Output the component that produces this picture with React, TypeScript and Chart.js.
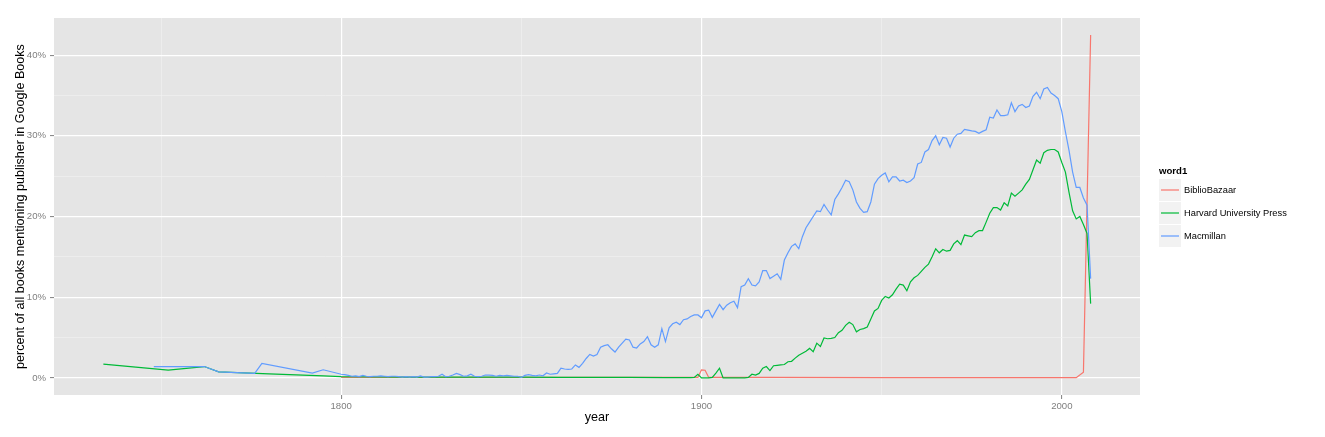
import React, { useEffect, useRef } from 'react';
import { Chart, registerables } from 'chart.js';

Chart.register(...registerables);

const range = (a: number, b: number): number[] => Array.from({ length: b - a + 1 }, (_, i) => a + i);

// ---- categories / labels ----
const seriesNames = ['BiblioBazaar', 'Harvard University Press', 'Macmillan'];
const seriesColors = ['#F8766D', '#00BA38', '#619CFF'];
const legendTitle = 'word1';
const xTitle = 'year';
const yTitle = 'percent of all books mentioning publisher in Google Books';

const xTicks = [1750, 1800, 1850, 1900, 1950, 2000];
const xLabelTicks = [1800, 1900, 2000];
const yTicks = [0, 5, 10, 15, 20, 25, 30, 35, 40];
const yLabelTicks = [0, 10, 20, 30, 40];

// ---- BiblioBazaar ----
const biblioYears = [1800, 1830, 1860, 1890, 1899, 1900, 1901, 1902, 1920, 1950, 1980, 2004, 2006, 2008];
const biblioValues = [0.05, 0.05, 0.05, 0.05, 0.05, 1.0, 0.95, 0.05, 0.05, 0.03, 0.02, 0.02, 0.7, 42.5];

// ---- Harvard University Press ----
const harvardEarlyYears = [1734, 1752, 1762, 1766, 1780, 1795, 1800, 1810, 1820, 1830, 1840, 1850, 1860, 1870, 1880, 1890, 1897];
const harvardEarlyValues = [1.7, 0.95, 1.4, 0.75, 0.5, 0.25, 0.15, 0.12, 0.1, 0.1, 0.08, 0.08, 0.06, 0.05, 0.05, 0.04, 0.04];
const harvardAnnualYears = range(1898, 2008);
const harvardAnnualValues = [
  0.05, 0.45, // 1898-1899
  0.0, 0.0, 0.0, 0.05, 0.6, 1.2, 0.0, 0.0, 0.0, 0.0, // 1900s
  0.0, 0.0, 0.0, 0.05, 0.45, 0.35, 0.55, 1.2, 1.4, 0.9, // 1910s
  1.5, 1.55, 1.6, 1.65, 2.0, 2.05, 2.45, 2.8, 3.05, 3.3, // 1920s
  3.65, 3.25, 4.3, 3.9, 4.95, 4.85, 4.9, 5.0, 5.6, 5.9, // 1930s
  6.5, 6.9, 6.6, 5.7, 6.0, 6.1, 6.3, 7.3, 8.3, 8.6, // 1940s
  9.6, 10.1, 9.9, 10.3, 11.0, 11.6, 11.5, 10.8, 11.9, 12.4, // 1950s
  12.7, 13.2, 13.7, 14.1, 15.0, 16.0, 15.5, 15.9, 15.7, 15.8, // 1960s
  16.6, 17.0, 16.5, 17.7, 17.6, 17.5, 18.0, 18.25, 18.25, 19.3, // 1970s
  20.4, 21.1, 21.1, 20.8, 21.7, 21.3, 22.9, 22.5, 22.9, 23.3, // 1980s
  24.0, 24.6, 25.8, 27.0, 26.6, 27.9, 28.2, 28.3, 28.3, 28.0, // 1990s
  26.7, 25.5, 23.0, 20.7, 19.7, 20.0, 19.0, 17.9, 9.2, // 2000-2008
];

// ---- Macmillan ----
const macmillanEarlyYears = [1748, 1762, 1766, 1776, 1778, 1792, 1795];
const macmillanEarlyValues = [1.4, 1.4, 0.75, 0.55, 1.8, 0.6, 1.0];
const macmillanAnnualYears = range(1800, 2008);
const macmillanAnnualValues = [
  0.45, 0.4, 0.3, 0.2, 0.25, 0.15, 0.3, 0.2, 0.15, 0.2, // 1800s
  0.2, 0.25, 0.2, 0.15, 0.2, 0.2, 0.15, 0.1, 0.15, 0.1, // 1810s
  0.15, 0.1, 0.25, 0.1, 0.1, 0.15, 0.15, 0.2, 0.45, 0.15, // 1820s
  0.2, 0.35, 0.55, 0.4, 0.2, 0.25, 0.45, 0.2, 0.15, 0.2, // 1830s
  0.35, 0.35, 0.3, 0.2, 0.3, 0.25, 0.3, 0.25, 0.2, 0.2, // 1840s
  0.05, 0.3, 0.4, 0.3, 0.25, 0.35, 0.25, 0.6, 0.45, 0.5, // 1850s
  0.55, 1.2, 1.1, 1.05, 1.1, 1.6, 1.3, 1.8, 2.4, 2.9, // 1860s
  2.7, 2.9, 3.8, 4.0, 4.1, 3.6, 3.2, 3.8, 4.3, 4.8, // 1870s
  4.7, 3.8, 3.7, 4.2, 4.5, 5.1, 4.1, 3.8, 4.1, 6.1, // 1880s
  4.5, 6.2, 6.7, 6.9, 6.6, 7.2, 7.3, 7.6, 7.8, 7.8, // 1890s
  7.45, 8.3, 8.4, 7.5, 8.3, 9.1, 8.45, 9.0, 9.3, 9.5, // 1900s
  8.7, 11.3, 11.5, 12.3, 11.5, 11.4, 11.9, 13.3, 13.3, 12.3, // 1910s
  12.6, 12.9, 12.2, 14.6, 15.5, 16.3, 16.6, 16.0, 17.5, 18.6, // 1920s
  19.3, 20.0, 20.7, 20.6, 21.5, 20.8, 20.2, 22.1, 22.8, 23.6, // 1930s
  24.5, 24.3, 23.3, 21.8, 21.0, 20.5, 20.6, 21.8, 24.0, 24.7, // 1940s
  25.1, 25.4, 24.3, 24.9, 24.9, 24.4, 24.5, 24.2, 24.4, 24.8, // 1950s
  26.5, 26.7, 28.0, 28.3, 29.4, 30.0, 28.9, 29.8, 29.7, 28.6, // 1960s
  29.7, 30.2, 30.3, 30.8, 30.7, 30.6, 30.55, 30.3, 30.55, 30.75, // 1970s
  32.3, 32.2, 33.2, 32.5, 32.5, 32.6, 34.1, 33.0, 33.7, 33.9, // 1980s
  33.5, 33.7, 34.9, 35.4, 34.6, 35.8, 36.0, 35.3, 35.0, 34.6, // 1990s
  33.0, 30.5, 28.2, 25.5, 23.6, 23.6, 22.3, 21.4, 12.3, // 2000-2008
];

const seriesYears = [
  biblioYears,
  [...harvardEarlyYears, ...harvardAnnualYears],
  [...macmillanEarlyYears, ...macmillanAnnualYears],
];
const seriesValues = [
  biblioValues,
  [...harvardEarlyValues, ...harvardAnnualValues],
  [...macmillanEarlyValues, ...macmillanAnnualValues],
];

const FONT = "'Liberation Sans', Arial, Helvetica, sans-serif";
const W = 1325;
const H = 437;

const panelBg = {
  id: 'panelBg',
  beforeDraw(chart: any) {
    const { ctx, chartArea } = chart;
    ctx.save();
    ctx.fillStyle = '#E5E5E5';
    ctx.fillRect(chartArea.left, chartArea.top, chartArea.right - chartArea.left, chartArea.bottom - chartArea.top);
    ctx.restore();
  },
};

const ggLegend = {
  id: 'ggLegend',
  afterDraw(chart: any) {
    const { ctx } = chart;
    const x0 = 1159;
    const y0 = 179;
    const key = 22;
    const step = 23;
    ctx.save();
    ctx.fillStyle = '#000000';
    ctx.font = `bold 9.6px ${FONT}`;
    ctx.textBaseline = 'alphabetic';
    ctx.textAlign = 'left';
    ctx.fillText(legendTitle, x0, 174);
    chart.data.datasets.forEach((ds: any, i: number) => {
      const top = y0 + i * step;
      ctx.fillStyle = '#F2F2F2';
      ctx.fillRect(x0, top, key, key);
      ctx.strokeStyle = ds.borderColor;
      ctx.lineWidth = 1.2;
      ctx.beginPath();
      ctx.moveTo(x0 + 2, top + key / 2);
      ctx.lineTo(x0 + key - 2, top + key / 2);
      ctx.stroke();
      ctx.fillStyle = '#000000';
      ctx.font = `9.3px ${FONT}`;
      ctx.textBaseline = 'middle';
      ctx.fillText(ds.label, x0 + key + 3, top + key / 2);
    });
    ctx.restore();
  },
};

export default function App() {
  const ref = useRef<HTMLCanvasElement | null>(null);

  useEffect(() => {
    document.body.style.margin = '0';
    const canvas = ref.current;
    if (!canvas) return;
    const orders = [3, 2, 1];
    const chart = new Chart(canvas, {
      type: 'line',
      data: {
        datasets: seriesNames.map((name, i) => ({
          label: name,
          data: seriesYears[i].map((x, j) => ({ x, y: seriesValues[i][j] })),
          borderColor: seriesColors[i],
          backgroundColor: seriesColors[i],
          borderWidth: 1.2,
          pointRadius: 0,
          tension: 0,
          fill: false,
          order: orders[i],
        })),
      },
      options: {
        responsive: false,
        animation: false,
        events: [],
        layout: { padding: { top: 18, right: W - 1140, left: 0, bottom: 0 } },
        plugins: {
          legend: { display: false },
          tooltip: { enabled: false },
        },
        scales: {
          x: {
            type: 'linear',
            min: 1720.3,
            max: 2021.7,
            afterBuildTicks: (scale: any) => {
              scale.ticks = xTicks.map((v) => ({ value: v }));
            },
            afterFit: (scale: any) => {
              scale.height = 42;
            },
            border: { display: false },
            grid: {
              color: (c: any) => (xLabelTicks.includes(c.tick?.value) ? '#FFFFFF' : '#F2F2F2'),
              lineWidth: (c: any) => (xLabelTicks.includes(c.tick?.value) ? 1.2 : 0.6),
              tickColor: (c: any) => (xLabelTicks.includes(c.tick?.value) ? '#7F7F7F' : 'rgba(0,0,0,0)'),
              tickLength: 4,
              tickWidth: 1,
              drawTicks: true,
            },
            ticks: {
              autoSkip: false,
              maxRotation: 0,
              padding: 2,
              color: '#7F7F7F',
              font: { family: FONT, size: 9.6 },
              callback: (v: any) => (xLabelTicks.includes(Number(v)) ? String(v) : ''),
            },
            title: {
              display: true,
              text: xTitle,
              color: '#000000',
              font: { family: FONT, size: 12.6 },
              padding: { top: 0, bottom: 12 },
            },
          },
          y: {
            type: 'linear',
            min: -2.125,
            max: 44.6,
            afterBuildTicks: (scale: any) => {
              scale.ticks = yTicks.map((v) => ({ value: v }));
            },
            afterFit: (scale: any) => {
              scale.width = 54;
            },
            border: { display: false },
            grid: {
              color: (c: any) => (yLabelTicks.includes(c.tick?.value) ? '#FFFFFF' : '#F2F2F2'),
              lineWidth: (c: any) => (yLabelTicks.includes(c.tick?.value) ? 1.2 : 0.6),
              tickColor: (c: any) => (yLabelTicks.includes(c.tick?.value) ? '#7F7F7F' : 'rgba(0,0,0,0)'),
              tickLength: 4,
              tickWidth: 1,
              drawTicks: true,
            },
            ticks: {
              autoSkip: false,
              padding: 4,
              color: '#7F7F7F',
              font: { family: FONT, size: 9.6 },
              callback: (v: any) => (yLabelTicks.includes(Number(v)) ? `${v}%` : ''),
            },
            title: {
              display: true,
              text: yTitle,
              color: '#000000',
              font: { family: FONT, size: 12.6 },
              padding: { top: 13, bottom: 0 },
            },
          },
        },
      },
      plugins: [panelBg, ggLegend],
    });
    return () => chart.destroy();
  }, []);

  return (
    <div style={{ width: W, height: H, background: '#FFFFFF' }}>
      <canvas ref={ref} width={W} height={H} style={{ display: 'block', width: W, height: H }} />
    </div>
  );
}
